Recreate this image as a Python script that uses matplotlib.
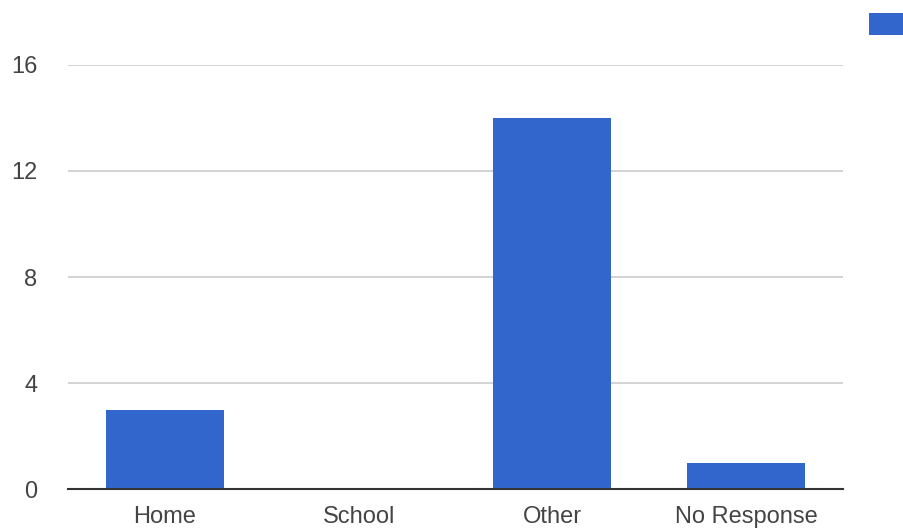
import matplotlib.pyplot as plt

plt.rcParams['font.family'] = ['Liberation Sans', 'DejaVu Sans']

categories = ['Home', 'School', 'Other', 'No Response']
counts = [3, 0, 14, 1]
yticks = [0, 4, 8, 12, 16]

fig = plt.figure(figsize=(9.04, 5.31), dpi=100)
ax = fig.add_axes([68/904, 42/531, 775/904, 424/531])

x = range(len(categories))
bars = ax.bar(x, counts, width=0.61, color='#3366cc', label=' ', zorder=3)

ax.set_xlim(-0.5, len(categories) - 0.5)
ax.set_ylim(0, 16)
ax.set_yticks(yticks)
ax.set_xticks(list(x))
ax.set_xticklabels(categories)

ax.grid(axis='y', color='#cccccc', lw=1.2, zorder=0)
for s in ['top', 'right', 'left']:
    ax.spines[s].set_visible(False)
ax.spines['bottom'].set_color('#333333')
ax.spines['bottom'].set_linewidth(1.5)
ax.spines['bottom'].set_zorder(4)
ax.tick_params(axis='both', length=0, labelsize=17, colors='#444444')
ax.tick_params(axis='y', pad=22)
ax.tick_params(axis='x', pad=12)

# legend swatch, cut off at the right edge like the original
fig.legend(handles=[bars], labels=[''], loc='upper left',
           bbox_to_anchor=(862/904, 1 - 6/531), frameon=False,
           handlelength=2.1, handleheight=1.1, borderaxespad=0,
           borderpad=0.3, fontsize=16.5)

fig.savefig('out.png', dpi=100)
